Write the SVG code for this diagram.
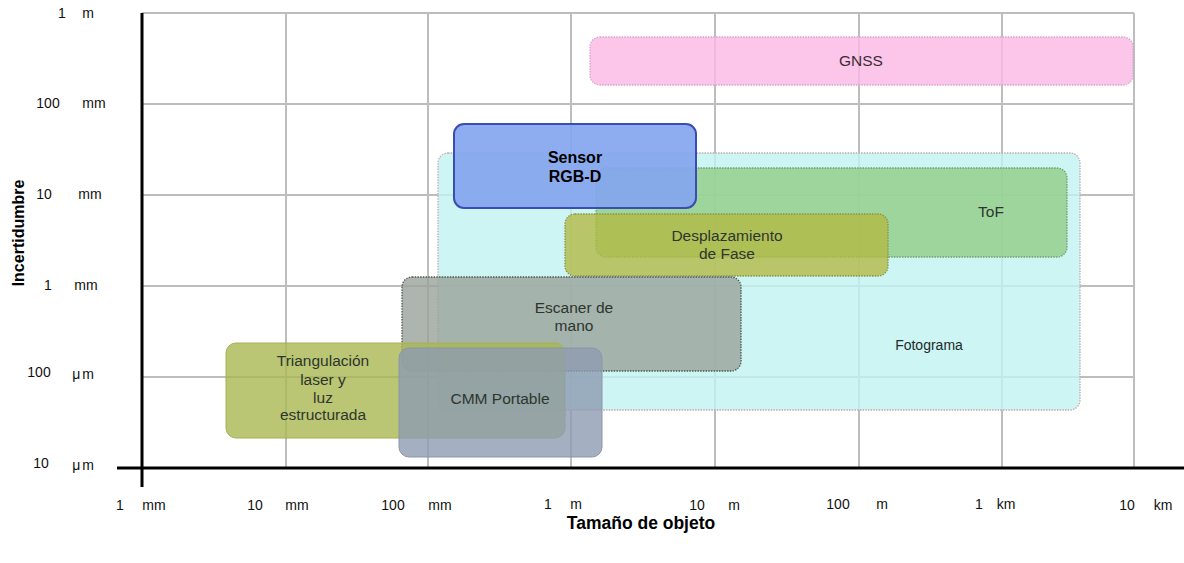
<svg xmlns="http://www.w3.org/2000/svg" width="1184" height="563" viewBox="0 0 1184 563">
  <style>
    .grid { stroke: #bdbdc0; stroke-width: 2; fill: none; }
    .axis { stroke: #000; stroke-width: 3; fill: none; }
    .tick { font-family: "Liberation Sans", Arial, sans-serif; font-size: 14px; fill: #111; text-anchor: middle; }
    .title { font-family: "Liberation Sans", Arial, sans-serif; font-size: 16px; font-weight: bold; fill: #000; text-anchor: middle; }
    .lbl { font-family: "Liberation Sans", Arial, sans-serif; font-size: 15.5px; fill: #2e352e; text-anchor: middle; }
    .box { fill-opacity: 0.8; stroke-width: 1.3; stroke-dasharray: 1.5 1.2; }
  </style>

  <rect width="1184" height="563" fill="#fff"/>

  <!-- log-scale grid -->
  <g id="grid">
    <path class="grid" d="M142 13H1134M142 104H1134M142 195H1134M142 286H1134M142 377H1134"/>
    <path class="grid" d="M286 13V468M428 13V468M571 13V468M715 13V468M859 13V468M1002 13V468M1134 13V468"/>
  </g>

  <!-- technology ranges -->
  <g id="gnss">
    <rect class="box" x="590" y="37" width="543" height="48" rx="10" fill="#fbb8e5" stroke="#d8a4c6"/>
    <text class="lbl" x="861" y="66" style="fill:#3a2a35">GNSS</text>
  </g>

  <g id="fotograma">
    <rect class="box" x="438" y="153" width="642" height="257" rx="10" fill="#bff2f0" stroke="#c4a8a8"/>
    <text class="lbl" x="929" y="350" style="font-size:14px;fill:#1f2a2a">Fotograma</text>
  </g>

  <g id="tof">
    <rect class="box" x="596" y="168" width="471" height="89" rx="10" fill="#91cd86" stroke="#6f9e72"/>
    <text class="lbl" x="991" y="217">ToF</text>
  </g>

  <g id="desplazamiento">
    <rect class="box" x="565" y="214" width="323" height="62" rx="10" fill="#b3b945" stroke="#8a9440"/>
    <text class="lbl" x="727" y="241">Desplazamiento</text>
    <text class="lbl" x="727" y="259">de Fase</text>
  </g>

  <g id="sensor-rgbd">
    <rect x="454" y="124" width="242" height="84" rx="10" fill="#84a5ef" fill-opacity="0.92" stroke="#3b4cb2" stroke-width="2"/>
    <text class="title" x="575" y="163">Sensor</text>
    <text class="title" x="575" y="182">RGB-D</text>
  </g>

  <g id="escaner">
    <rect class="box" x="402" y="277" width="339" height="94" rx="10" fill="#9aa29a" stroke="#4e5550"/>
    <text class="lbl" x="574" y="313">Escaner de</text>
    <text class="lbl" x="574" y="331">mano</text>
  </g>

  <g id="triangulacion">
    <rect x="226" y="343" width="339" height="95" rx="10" fill="#a9b850" fill-opacity="0.8" stroke="#a6b257" stroke-width="1"/>
    <text class="lbl" x="323" y="366">Triangulación</text>
    <text class="lbl" x="323" y="385">laser y</text>
    <text class="lbl" x="323" y="403">luz</text>
    <text class="lbl" x="323" y="420">estructurada</text>
  </g>

  <g id="cmm">
    <rect x="399" y="348" width="203" height="109" rx="10" fill="#8d9bb2" fill-opacity="0.8" stroke="#8b96a6" stroke-width="1"/>
    <text class="lbl" x="500" y="404">CMM Portable</text>
  </g>

  <!-- axes -->
  <g id="axes">
    <path class="axis" d="M142 13V487M117 468H1184"/>
  </g>

  <!-- uncertainty axis ticks -->
  <g id="y-ticks">
    <text class="tick" x="62" y="18">1</text><text class="tick" x="88" y="18">m</text>
    <text class="tick" x="48" y="108">100</text><text class="tick" x="94" y="108">mm</text>
    <text class="tick" x="44" y="199">10</text><text class="tick" x="90" y="199">mm</text>
    <text class="tick" x="48" y="290">1</text><text class="tick" x="86" y="290">mm</text>
    <text class="tick" x="39" y="377">100</text><text class="tick" x="84" y="379" letter-spacing="2">μm</text>
    <text class="tick" x="41" y="468">10</text><text class="tick" x="84" y="470" letter-spacing="2">μm</text>
  </g>

  <!-- object size axis ticks -->
  <g id="x-ticks">
    <text class="tick" x="120" y="510">1</text><text class="tick" x="154" y="510">mm</text>
    <text class="tick" x="255" y="510">10</text><text class="tick" x="297" y="510">mm</text>
    <text class="tick" x="393" y="510">100</text><text class="tick" x="440" y="510">mm</text>
    <text class="tick" x="548" y="509">1</text><text class="tick" x="576" y="509">m</text>
    <text class="tick" x="697" y="510">10</text><text class="tick" x="734" y="510">m</text>
    <text class="tick" x="838" y="509">100</text><text class="tick" x="882" y="509">m</text>
    <text class="tick" x="979" y="509">1</text><text class="tick" x="1006" y="509">km</text>
    <text class="tick" x="1127" y="510">10</text><text class="tick" x="1163" y="510">km</text>
  </g>

  <g id="axis-titles">
    <text class="title" x="641" y="529" style="font-size:17.5px">Tamaño de objeto</text>
    <text class="title" transform="translate(24 233) rotate(-90)">Incertidumbre</text>
  </g>
</svg>
